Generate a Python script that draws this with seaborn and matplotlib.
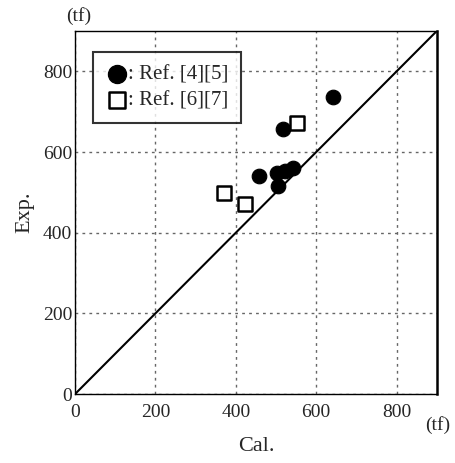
import matplotlib
matplotlib.use('Agg')
import matplotlib.pyplot as plt
import seaborn as sns
import pandas as pd

# Calculated vs experimental strength (tf)
ref45_cal = [641, 517, 457, 502, 522, 542, 505]
ref45_exp = [736, 657, 541, 548, 553, 560, 516]
ref67_cal = [552, 370, 422]
ref67_exp = [672, 499, 472]

sns.set_style('white')
plt.rcParams['font.family'] = ['Liberation Serif', 'DejaVu Serif']

fig = plt.figure(figsize=(4.55, 4.63), dpi=100)
ax = fig.add_axes([0.165, 0.149, 0.795, 0.784])

df45 = pd.DataFrame({'Cal': ref45_cal, 'Exp': ref45_exp})
df67 = pd.DataFrame({'Cal': ref67_cal, 'Exp': ref67_exp})

ax.plot([0, 900], [0, 900], color='black', lw=1.5, zorder=2)
sns.scatterplot(data=df45, x='Cal', y='Exp', ax=ax, marker='o', s=110,
                color='black', edgecolor='black', label=': Ref. [4][5]', zorder=3)
sns.scatterplot(data=df67, x='Cal', y='Exp', ax=ax, marker='s', s=95,
                facecolor='white', edgecolor='black', linewidth=1.8,
                label=': Ref. [6][7]', zorder=3)

ax.set_xlim(0, 900)
ax.set_ylim(0, 900)
ax.set_xticks([0, 200, 400, 600, 800])
ax.set_yticks([0, 200, 400, 600, 800])
ax.grid(True, linestyle=(0, (2, 3)), color='#666666', lw=1)
ax.tick_params(length=0, labelsize=14)
ax.tick_params(axis='x', pad=7)
ax.tick_params(axis='y', pad=2)
for s in ax.spines.values():
    s.set_color('black')
    s.set_linewidth(1.0)
    s.set_visible(True)
ax.spines['right'].set_linewidth(1.8)

ax.set_xlabel('Cal.', fontsize=16, labelpad=12)
ax.set_ylabel('Exp.', fontsize=16, labelpad=6)
fig.text(0.99, 0.082, '(tf)', fontsize=14, ha='right', va='center')
fig.text(0.145, 0.985, '(tf)', fontsize=14, ha='left', va='top')

leg = ax.legend(loc='upper left', frameon=True, fontsize=15, handletextpad=0.0,
                borderpad=0.6, labelspacing=0.3, fancybox=False,
                bbox_to_anchor=(0.02, 0.97), handlelength=1.1, markerscale=1.25)
leg.get_frame().set_edgecolor('black')
leg.get_frame().set_linewidth(1.5)

fig.savefig('out.png', dpi=100)
